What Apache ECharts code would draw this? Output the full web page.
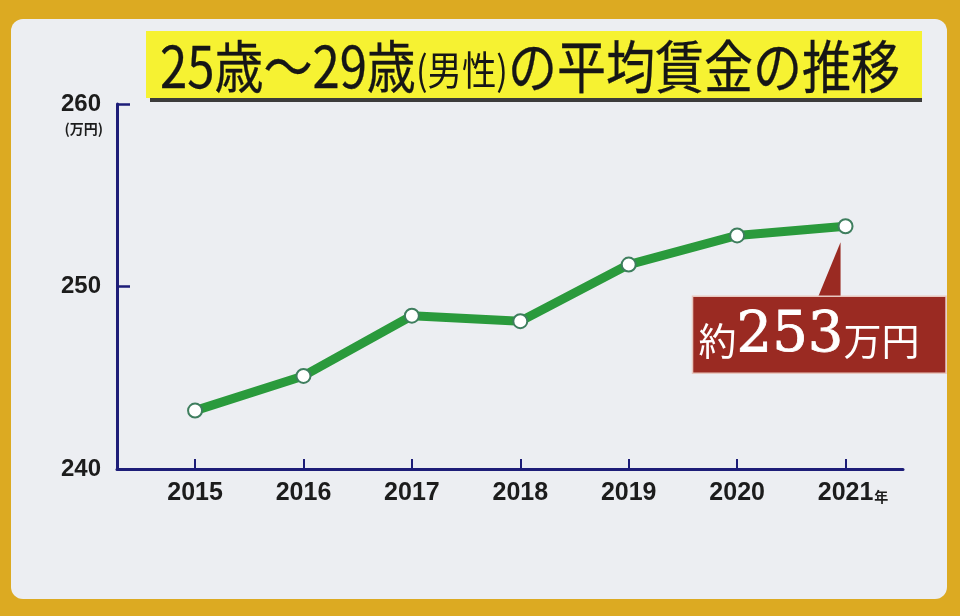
<!DOCTYPE html>
<html>
<head>
<meta charset="utf-8">
<script src="https://cdn.jsdelivr.net/npm/echarts@6/dist/echarts.min.js"></script>
<style>
  html, body { margin: 0; padding: 0; background: #dcaa22; }
  #chart { width: 960px; height: 616px; }
</style>
</head>
<body>
<div id="chart"></div>
<script>
// 25～29歳（男性）の平均賃金（万円）
const years = [2015, 2016, 2017, 2018, 2019, 2020, 2021];
const wages = [243.2, 245.1, 248.4, 248.1, 251.2, 252.8, 253.3];
const yTicks = [240, 250, 260];
const unitText = '(万円)';

const AXIS = '#1d1d78';
const points = years.map((y, i) => [y, wages[i]]);
const X_MIN = 2014.28, X_MAX = 2021.53;

const chart = echarts.init(document.getElementById('chart'), null, { renderer: 'canvas' });

const option = {
  backgroundColor: '#dcaa22',
  animation: false,
  grid: { left: 117, right: 57, top: 104, bottom: 147 },
  xAxis: {
    type: 'value',
    min: X_MIN,
    max: X_MAX,
    splitLine: { show: false },
    axisLine: { show: true, lineStyle: { color: AXIS, width: 3 } },
    axisTick: {
      show: true, inside: true, length: 10, customValues: years,
      lineStyle: { color: AXIS, width: 2 }
    },
    axisLabel: {
      customValues: years,
      margin: 12,
      formatter: v => v === years[years.length - 1]
        ? '{p|}{y|' + v + '}{n|年}'
        : '{y|' + v + '}',
      rich: {
        p: { width: 15 },
        y: { fontFamily: 'Liberation Sans', fontWeight: 'bold', fontSize: 25, color: '#1c1c1c' },
        n: { fontFamily: 'Noto Sans CJK JP', fontWeight: 'bold', fontSize: 14, color: '#1c1c1c', padding: [6, 0, 0, 1] }
      }
    }
  },
  yAxis: {
    type: 'value',
    min: yTicks[0],
    max: yTicks[yTicks.length - 1],
    interval: 10,
    splitLine: { show: false },
    axisLine: { show: true, lineStyle: { color: AXIS, width: 3 } },
    axisTick: {
      show: true, inside: true, length: 13, customValues: yTicks.slice(1),
      lineStyle: { color: AXIS, width: 2.5 }
    },
    axisLabel: {
      margin: 16,
      fontFamily: 'Liberation Sans',
      fontWeight: 'bold',
      fontSize: 24,
      color: '#1c1c1c'
    }
  },
  series: [{
    type: 'line',
    data: points,
    lineStyle: { color: '#2a9a3c', width: 9 },
    symbol: 'circle',
    symbolSize: 14,
    itemStyle: { color: '#ffffff', borderColor: '#3e7e5e', borderWidth: 2 },
    z: 5
  }]
};
chart.setOption(option);

// panel, title band, unit and value callout
function decorate() {
  const last = points[points.length - 1];
  const p = chart.convertToPixel({ gridIndex: 0 }, last);
  const top = chart.convertToPixel({ gridIndex: 0 }, [X_MIN, yTicks[yTicks.length - 1]]);
  const boxL = p[0] - 153, boxR = 946, boxT = p[1] + 70, boxB = p[1] + 147;

  chart.setOption({
    graphic: [
      {
        type: 'rect', z: -10, silent: true,
        shape: { x: 11, y: 19, width: 936, height: 580, r: 12 },
        style: { fill: '#eceef2' }
      },
      // title band with its shadow
      {
        type: 'rect', z: 1,
        shape: { x: 150, y: 36, width: 772, height: 66 },
        style: { fill: '#3c3c3c' }
      },
      {
        type: 'rect', z: 2,
        shape: { x: 146, y: 31, width: 776, height: 67 },
        style: { fill: '#f6f232' }
      },
      {
        type: 'text', z: 3,
        x: 160, y: 66, scaleX: 0.86,
        style: {
          text: '{a|25歳～29歳}{b|(男性)}{a|の平均賃金の推移}',
          verticalAlign: 'middle',
          rich: {
            a: { fontFamily: 'Noto Sans CJK JP', fontSize: 57, fill: '#161616', stroke: '#161616', lineWidth: 0.3 },
            b: { fontFamily: 'Noto Sans CJK JP', fontSize: 40, fill: '#161616', padding: [8, 0, 0, 0] }
          }
        }
      },
      // unit under the top tick label
      {
        type: 'text', z: 3,
        x: top[0] - 14, y: top[1] + 25,
        style: {
          text: unitText, align: 'right', verticalAlign: 'middle',
          fontFamily: 'Noto Sans CJK JP', fontWeight: 'bold', fontSize: 14, fill: '#1c1c1c'
        }
      },
      // callout pointer
      {
        type: 'polygon', z: 6,
        shape: { points: [[p[0] - 5, p[1] + 16], [p[0] - 28, boxT + 2], [p[0] - 5, boxT + 2]] },
        style: { fill: '#9a2a22' }
      },
      {
        type: 'rect', z: 6,
        shape: { x: boxL, y: boxT, width: boxR - boxL, height: boxB - boxT },
        style: { fill: '#9a2a22', stroke: '#e8c8c0', lineWidth: 1.5 }
      },
      {
        type: 'text', z: 7,
        x: boxL + 6, y: (boxT + boxB) / 2 + 2,
        style: {
          text: '{s|約}{n|' + Math.round(last[1]) + '}{s|万円}',
          verticalAlign: 'middle',
          rich: {
            s: { fontFamily: 'Noto Sans CJK JP', fontSize: 38, fill: '#ffffff', padding: [8, 0, 0, 0] },
            n: { fontFamily: 'DejaVu Serif', fontSize: 56, fill: '#ffffff', stroke: '#ffffff', lineWidth: 0.8 }
          }
        }
      }
    ]
  });
}
decorate();
</script>
</body>
</html>
